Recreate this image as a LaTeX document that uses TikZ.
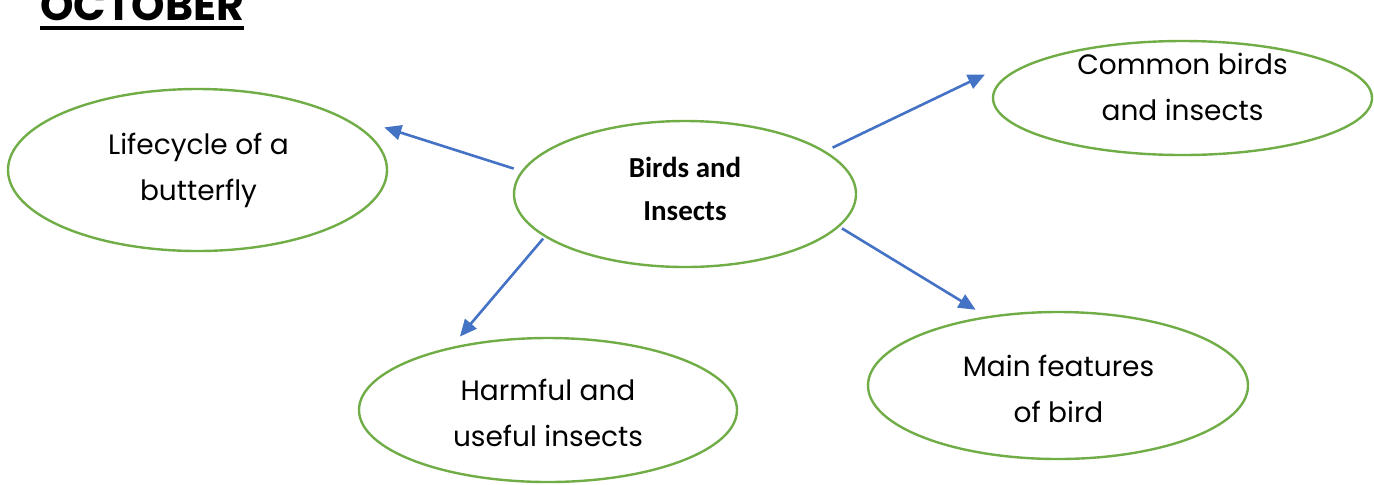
\documentclass[tikz,border=0pt]{standalone}
\usepackage{fontspec}
\setmainfont{Poppins}
\newfontfamily\calfont{Carlito}
\usetikzlibrary{shapes.geometric,arrows.meta,calc}
\definecolor{bgreen}{HTML}{70AD47}
\definecolor{ablue}{HTML}{4472C4}
\begin{document}
\begin{tikzpicture}[x=0.5pt,y=-0.5pt,
  bubble/.style={ellipse,draw=bgreen,line width=1.2pt,inner sep=0pt},
  txt/.style={align=center,font=\fontsize{14}{23}\selectfont,inner sep=0pt},
  ctxt/.style={align=center,font=\calfont\bfseries\fontsize{14.5}{21.5}\selectfont,inner sep=0pt},
  link/.style={draw=ablue,line width=1.3pt,-{Triangle[length=8.5pt,width=7.5pt]}}]
\useasboundingbox (0,0) rectangle (1374,484);
% title
\node[anchor=base west,inner sep=0pt,font=\bfseries\fontsize{21.3}{24}\selectfont] (title) at (40,20) {OCTOBER};
\draw[line width=2pt] ([yshift=-4pt]title.base west) -- ([yshift=-4pt]title.base east);
% bubbles
\node[bubble,minimum width=189.5pt,minimum height=81pt] (life) at (197.5,170) {};
\node[bubble,minimum width=171pt,minimum height=73pt] (center) at (685,194) {};
\node[bubble,minimum width=189.5pt,minimum height=57pt] (common) at (1182.5,98) {};
\node[bubble,minimum width=190pt,minimum height=73.5pt] (main) at (1058,385.5) {};
\node[bubble,minimum width=189pt,minimum height=72pt] (harm) at (548,410) {};
% texts
\node[txt] (life-t) at (198.5,170) {Lifecycle of a\\butterfly};
\node[ctxt] (center-t) at (685,188.5) {Birds and\\Insects};
\node[txt] (common-t) at (1182.5,86.5) {Common birds\\and insects};
\node[txt] (main-t) at (1058.5,389) {Main features\\of bird};
\node[txt] (harm-t) at (548,413) {Harmful and\\useful insects};
% links
\draw[link,shorten <=4pt] (center.172.5) -- ($(life.28.6)!35pt!(center.172.5)$);
\draw[link,shorten <=4pt] (center.17.9) -- ($(center.17.9)!88.5pt!3.1:(common.173.4)$);
\draw[link,shorten <=1.5pt] (center.-12.3) -- ($(main.136.3)!6.25pt!(center.-12.3)$);
\draw[link,shorten <=1.1pt] (center.197.9) -- ($(harm.147.1)!6.85pt!(center.197.9)$);
\end{tikzpicture}
\end{document}
